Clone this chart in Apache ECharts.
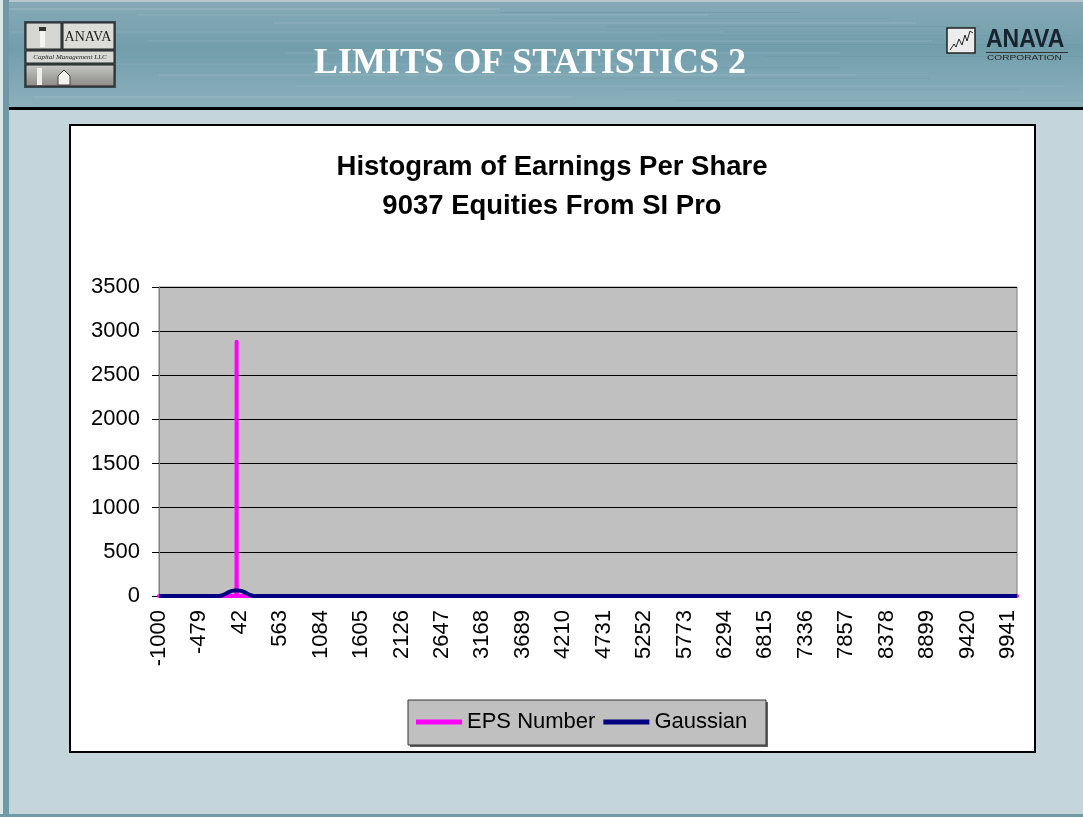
<!DOCTYPE html>
<html>
<head>
<meta charset="utf-8">
<script src="https://cdn.jsdelivr.net/npm/echarts@6/dist/echarts.min.js"></script>
<style>
html,body{margin:0;padding:0;background:#C4D6DC;}
#c{width:1083px;height:817px;}
</style>
</head>
<body>
<div id="c"></div>
<script>
// ---- data ----
const slideTitle = 'LIMITS OF STATISTICS 2';
const chartTitle1 = 'Histogram of Earnings Per Share';
const chartTitle2 = '9037 Equities From SI Pro';
const seriesNames = ['EPS Number', 'Gaussian'];
const xTickLabels = [-1000, -479, 42, 563, 1084, 1605, 2126, 2647, 3168, 3689, 4210, 4731, 5252, 5773, 6294, 6815, 7336, 7857, 8378, 8899, 9420, 9941];
const xRange = [-1000, 10057];
const yTicks = [0, 3500, 500];
// EPS histogram (bin value -> count); only the visible non-zero neighbourhood is listed
const epsBins   = [-1000, -5, -3, -2, -1, 0, 1, 2, 3, 5, 10057];
const epsCounts = [0, 0, 40, 70, 130, 2880, 160, 80, 45, 0, 0];
// Gaussian fit (bin value -> expected count)
const gaussBins   = [-1000, -220, -180, -140, -100, -60, -20, 20, 60, 100, 140, 180, 220, 10057];
const gaussCounts = [0, 0, 8, 25, 45, 58, 62, 62, 58, 45, 25, 8, 0, 0];

const pair = (xs, ys) => xs.map((x, i) => [x, ys[i]]);

const chart = echarts.init(document.getElementById('c'), null, {renderer: 'canvas'});

// header streak texture (decorative)
const streaks = [];
const streakDefs = [[8,0.10],[14,0.06],[22,0.08],[31,0.05],[40,0.07],[52,0.06],[63,0.05],[74,0.08],[85,0.06],[96,0.07]];
streakDefs.forEach(([y, o], i) => {
  streaks.push({type: 'rect', z: -90, shape: {x: (i * 137) % 400, y: y, width: 500 + (i * 71) % 300, height: 2},
    style: {fill: 'rgba(255,255,255,' + o + ')'}});
  streaks.push({type: 'rect', z: -90, shape: {x: 500 + (i * 53) % 300, y: y + 4, width: 300 + (i * 37) % 200, height: 1},
    style: {fill: 'rgba(40,80,95,' + o + ')'}});
});

const option = {
  backgroundColor: '#C4D6DC',
  animation: false,
  textStyle: {fontFamily: 'Liberation Sans'},
  graphic: {elements: [
    // header band
    {type: 'rect', z: -100, shape: {x: 0, y: 0, width: 1083, height: 108},
      style: {fill: {type: 'linear', x: 0, y: 0, x2: 0, y2: 1, colorStops: [
        {offset: 0, color: '#86aab6'}, {offset: 0.45, color: '#729eac'}, {offset: 1, color: '#8cb1bc'}]}}},
    ...streaks,
    {type: 'rect', z: -80, shape: {x: 0, y: 0, width: 1083, height: 2}, style: {fill: '#b8c8cc'}},
    {type: 'rect', z: -80, shape: {x: 0, y: 107, width: 1083, height: 3}, style: {fill: '#000'}},
    // left / bottom frame
    {type: 'rect', z: -80, shape: {x: 0, y: 0, width: 3, height: 817}, style: {fill: '#dde6e8'}},
    {type: 'rect', z: -80, shape: {x: 3, y: 0, width: 6, height: 817}, style: {fill: '#6f9aa6'}},
    {type: 'rect', z: -80, shape: {x: 0, y: 814, width: 1083, height: 3}, style: {fill: '#6f9aa6'}},
    // slide title
    {type: 'text', z: 50, x: 530, y: 64, style: {text: slideTitle, fill: '#fff', font: 'bold 36px "Liberation Serif"',
      align: 'center', verticalAlign: 'middle'}},
    // left logo
    {type: 'rect', z: 40, shape: {x: 24, y: 21, width: 92, height: 67}, style: {fill: '#3a4a50'}},
    {type: 'rect', z: 41, shape: {x: 26, y: 23, width: 35, height: 26}, style: {fill: '#d6d6d2', stroke: '#222', lineWidth: 1}},
    {type: 'rect', z: 42, shape: {x: 40, y: 30, width: 5, height: 17}, style: {fill: '#f4f4f0'}},
    {type: 'rect', z: 42, shape: {x: 39, y: 27, width: 7, height: 4}, style: {fill: '#333'}},
    {type: 'rect', z: 41, shape: {x: 63, y: 23, width: 51, height: 26}, style: {fill: '#dcdcd8', stroke: '#222', lineWidth: 1}},
    {type: 'text', z: 42, x: 88, y: 37, style: {text: 'ANAVA', fill: '#1e1e1e', font: '14px "Liberation Serif"', align: 'center', verticalAlign: 'middle'}},
    {type: 'rect', z: 41, shape: {x: 26, y: 51, width: 88, height: 12}, style: {fill: '#d8d8d4', stroke: '#222', lineWidth: 1}},
    {type: 'text', z: 42, x: 70, y: 57, style: {text: 'Capital Management LLC', fill: '#222', font: 'italic 7px "Liberation Serif"', align: 'center', verticalAlign: 'middle'}},
    {type: 'rect', z: 41, shape: {x: 26, y: 65, width: 88, height: 21}, style: {fill: {type: 'linear', x: 0, y: 0, x2: 0, y2: 1,
      colorStops: [{offset: 0, color: '#c8c8c4'}, {offset: 1, color: '#8a8a86'}]}, stroke: '#222', lineWidth: 1}},
    {type: 'rect', z: 42, shape: {x: 37, y: 68, width: 5, height: 17}, style: {fill: '#eeeeea'}},
    {type: 'polygon', z: 42, shape: {points: [[58, 85], [58, 76], [64, 70], [70, 76], [70, 85]]}, style: {fill: '#f0f0ec', stroke: '#444', lineWidth: 1}},
    // right logo
    {type: 'rect', z: 40, shape: {x: 947, y: 28, width: 28, height: 25}, style: {fill: '#ececec', stroke: '#222', lineWidth: 1.5}},
    {type: 'polyline', z: 41, shape: {points: [[950, 50], [954, 44], [956, 47], [959, 39], [962, 45], [965, 35], [967, 41], [970, 31], [973, 33]]},
      style: {stroke: '#222', lineWidth: 1, fill: null}},
    {type: 'text', z: 41, x: 986, y: 40, scaleY: 1.15, originX: 0, originY: 0,
      style: {text: 'ANAVA', fill: '#18232e', font: 'bold 23px "Liberation Sans"', align: 'left', verticalAlign: 'middle'}},
    {type: 'rect', z: 41, shape: {x: 986, y: 52, width: 82, height: 1}, style: {fill: '#333'}},
    {type: 'text', z: 41, x: 987, y: 58, scaleX: 1.45, originX: 0, originY: 0,
      style: {text: 'CORPORATION', fill: '#222', font: '7px "Liberation Sans"', align: 'left', verticalAlign: 'middle'}},
    // chart box
    {type: 'rect', z: -50, shape: {x: 70, y: 125, width: 965, height: 627}, style: {fill: '#fff', stroke: '#000', lineWidth: 2}},
    {type: 'text', z: 50, x: 552, y: 167, style: {text: chartTitle1, fill: '#000', font: 'bold 27.5px "Liberation Sans"', align: 'center', verticalAlign: 'middle'}},
    {type: 'text', z: 50, x: 552, y: 206, style: {text: chartTitle2, fill: '#000', font: 'bold 27.5px "Liberation Sans"', align: 'center', verticalAlign: 'middle'}},
    // legend box
    {type: 'rect', z: -40, shape: {x: 410, y: 702, width: 358, height: 45}, style: {fill: '#606060'}},
    {type: 'rect', z: -39, shape: {x: 408, y: 700, width: 358, height: 45}, style: {fill: '#C0C0C0', stroke: '#333', lineWidth: 1}}
  ]},
  grid: {left: 159, top: 287, width: 858, height: 309, show: true, backgroundColor: '#C0C0C0', borderColor: '#808080', borderWidth: 1},
  legend: {
    data: seriesNames, left: 408, top: 700, padding: [11, 11, 11, 8], itemGap: 8,
    itemWidth: 46, itemHeight: 5, icon: 'rect',
    textStyle: {fontSize: 22, color: '#000', fontFamily: 'Liberation Sans'}
  },
  xAxis: {
    type: 'value', min: xRange[0], max: xRange[1],
    axisLine: {show: true, onZero: false, lineStyle: {color: '#000'}},
    axisTick: {show: false},
    splitLine: {show: false},
    axisLabel: {customValues: xTickLabels, rotate: 90, fontSize: 22, color: '#000', margin: 14,
      fontFamily: 'Liberation Sans', formatter: v => String(v)}
  },
  yAxis: {
    type: 'value', min: yTicks[0], max: yTicks[1], interval: yTicks[2],
    axisLine: {show: true, onZero: false, lineStyle: {color: '#808080'}},
    axisTick: {show: true, length: 7, lineStyle: {color: '#000'}},
    splitLine: {show: true, lineStyle: {color: '#000', width: 1}},
    axisLabel: {fontSize: 22, color: '#000', margin: 19, fontFamily: 'Liberation Sans', formatter: v => String(v)}
  },
  series: [
    {name: seriesNames[0], type: 'line', data: pair(epsBins, epsCounts), symbol: 'none',
      itemStyle: {color: '#FF00FF'}, lineStyle: {color: '#FF00FF', width: 4, cap: 'round', join: 'round'}, z: 3},
    {name: seriesNames[1], type: 'line', data: pair(gaussBins, gaussCounts), symbol: 'none',
      itemStyle: {color: '#000080'}, lineStyle: {color: '#000080', width: 4, cap: 'butt', join: 'round'}, z: 4}
  ]
};
chart.setOption(option);
</script>
</body>
</html>
